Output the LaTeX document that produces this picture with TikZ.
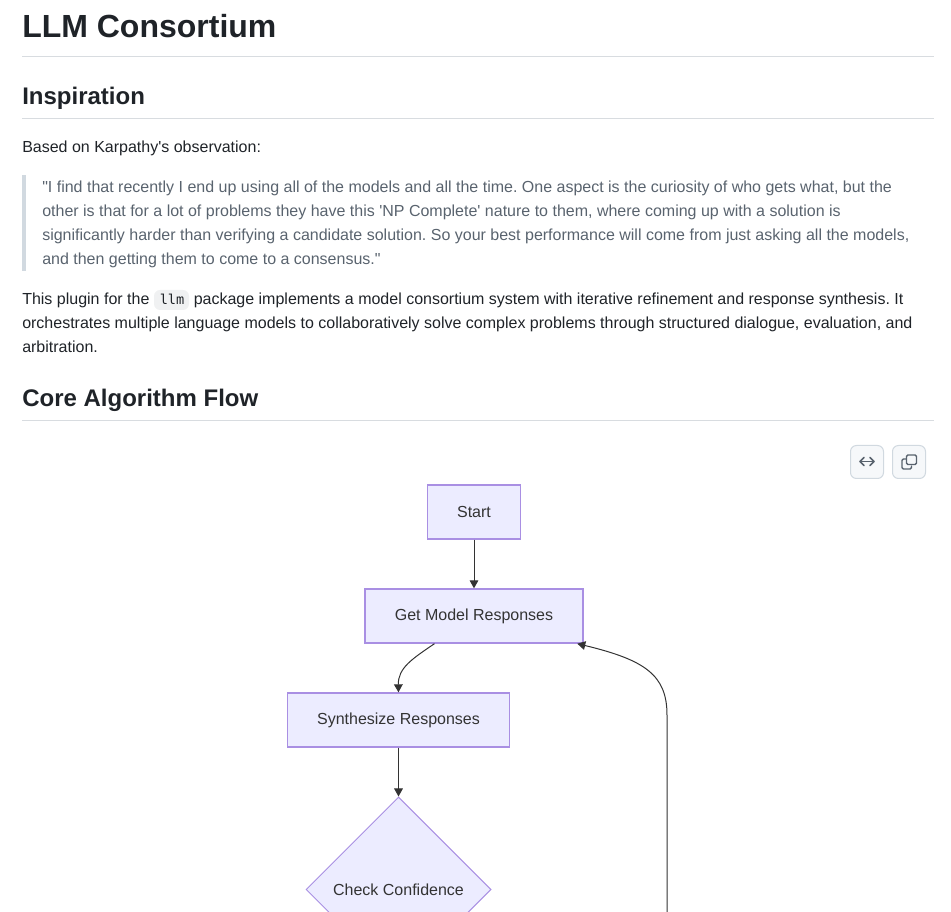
\documentclass[tikz,border=0pt]{standalone}
\usepackage{fontspec}
\usetikzlibrary{arrows.meta,shapes.geometric}
\newfontfamily\pagefont{Liberation Sans}
\newfontfamily\codefont{DejaVu Sans Mono}
\definecolor{ink}{HTML}{1F2328}
\definecolor{quoteink}{HTML}{59636E}
\definecolor{rulegray}{HTML}{D8DCE0}
\definecolor{barblue}{HTML}{D1D9E0}
\definecolor{codebg}{HTML}{F0F1F2}
\definecolor{btnbg}{HTML}{F6F8FA}
\definecolor{iconink}{HTML}{59636E}
\definecolor{nodefill}{HTML}{ECECFF}
\definecolor{nodeline}{HTML}{A98FE3}
\definecolor{flowink}{HTML}{333333}
\frenchspacing

\begin{document}
\begin{tikzpicture}[
    x=.75pt,y=-.75pt,
    line/.style={anchor=base west,inner sep=0pt,text=ink,font={\pagefont\fontsize{12}{14}\selectfont}},
    quoteline/.style={line,text=quoteink},
    title/.style={line,font={\pagefont\bfseries\fontsize{24}{28}\selectfont}},
    heading/.style={line,font={\pagefont\bfseries\fontsize{18}{22}\selectfont}},
    rulebar/.style={draw=rulegray,line width=.75pt},
    btn/.style={draw=barblue,fill=btnbg,rounded corners=4.5pt,line width=.75pt},
    icon/.style={draw=iconink,line width=1.1pt,line cap=round,line join=round},
    box/.style={draw=nodeline,fill=nodefill,line width=1pt,inner sep=0pt,
        minimum height=40.5pt,text=flowink,font={\pagefont\fontsize{12}{14}\selectfont}},
    check/.style={box,shape=diamond,aspect=1,line width=.75pt,minimum width=138.75pt,minimum height=138.75pt},
    flow/.style={draw=flowink,line width=.75pt,-{Triangle[length=6pt,width=6.5pt]}},
    ]
    \useasboundingbox (0,0) rectangle (951,912);
    \clip (0,0) rectangle (951,912);

    % Page headings
    \node[title] (pagetitle) at (22,38) {LLM Consortium};
    \draw[rulebar] (22,56.5)--(934,56.5);
    \node[heading] (inspiration) at (22,105) {Inspiration};
    \draw[rulebar] (22,118.5)--(934,118.5);
    \node[line] (based) at (22,153) {Based on Karpathy's observation:};

    % Block quote
    \fill[barblue] (22,175) rectangle (26,271);
    \node[quoteline] (quotea) at (42,193) {"I find that recently I end up using all of the models and all the time. One aspect is the curiosity of who gets what, but the};
    \node[quoteline] (quoteb) at (42,217) {other is that for a lot of problems they have this 'NP Complete' nature to them, where coming up with a solution is};
    \node[quoteline] (quotec) at (42,241) {significantly harder than verifying a candidate solution. So your best performance will come from just asking all the models,};
    \node[quoteline] (quoted) at (42,265) {and then getting them to come to a consensus."};

    % Plugin paragraph
    \node[line] (plugina) at (22,305) {This plugin for the};
    \fill[codebg,rounded corners=4.5pt] (154,290) rectangle (189,310);
    \node[line,font={\codefont\fontsize{10.2}{12}\selectfont}] (code) at (159.5,304.5) {llm};
    \node[line] (pluginb) at (193.5,305) {package implements a model consortium system with iterative refinement and response synthesis. It};
    \node[line] (pluginc) at (22,329) {orchestrates multiple language models to collaboratively solve complex problems through structured dialogue, evaluation, and};
    \node[line] (plugind) at (22,353) {arbitration.};

    \node[heading] (coreflow) at (22,407) {Core Algorithm Flow};
    \draw[rulebar] (22,420.5)--(934,420.5);

    % Buttons
    \draw[btn] (850.5,445.5) rectangle (883.5,478.5);
    \draw[btn] (892.5,445.5) rectangle (925.5,478.5);
    % Wrap icon
    \draw[icon] (860,461.5)--(874,461.5);
    \draw[icon] (864,457.5)--(860,461.5)--(864,465.5);
    \draw[icon] (870,457.5)--(874,461.5)--(870,465.5);
    % Copy icon
    \draw[icon,rounded corners=1pt] (906.5,455)rectangle(916.5,464.5);
    \draw[icon,rounded corners=1pt] (906,459)--(902,459)--(902,469)--(911.5,469)--(911.5,466);

    % Flow nodes
    \node[box,minimum width=70pt] (start) at (474,512) {Start};
    \node[box,minimum width=163.5pt] (responses) at (474,616) {Get Model Responses};
    \node[box,minimum width=166.5pt] (synth) at (398.5,720) {Synthesize Responses};
    \node[check] (confidence) at (398.5,889.5) {Check Confidence};

    % Connectors
    \coordinate (loopfoot) at (667,930);
    \draw[flow] (start)--(responses);
    \draw[flow] (responses.215.5) .. controls (412,659) and (398,668) .. (synth.north);
    \draw[flow] (synth)--(confidence);
    \draw[flow] (loopfoot)--(667,715) .. controls (667,675) and (645,660) .. (responses.-15.6);
\end{tikzpicture}
\end{document}
